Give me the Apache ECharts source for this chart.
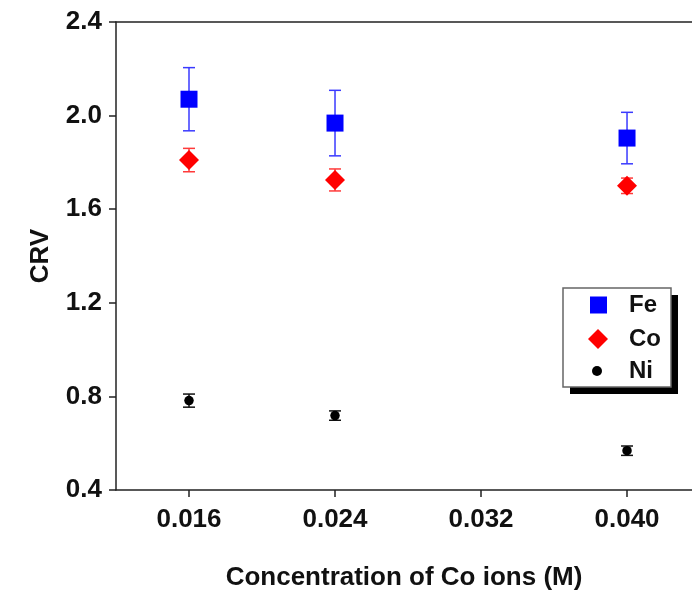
<!DOCTYPE html>
<html><head><meta charset="utf-8">
<script src="https://cdn.jsdelivr.net/npm/echarts@6/dist/echarts.min.js"></script>
<style>html,body{margin:0;padding:0;background:#fff}#c{width:692px;height:593px}</style>
</head><body><div id="c"></div>
<script>
var xValues = [0.016, 0.024, 0.040];
var xTicks = [0.016, 0.024, 0.032, 0.040];
var feMean = [2.07, 1.968, 1.904];
var feErr = [0.135, 0.14, 0.11];
var coMean = [1.81, 1.725, 1.70];
var coErr = [0.05, 0.047, 0.033];
var niMean = [0.782, 0.718, 0.568];
var niErr = [0.028, 0.02, 0.02];

function pts(m){ return xValues.map(function(x,i){return [x,m[i]];}); }
function errs(m,e){ return xValues.map(function(x,i){return [x,m[i],m[i]-e[i],m[i]+e[i]];}); }
function errSeries(m,e,color){
  return {
    type:'custom', silent:true, z:1,
    data: errs(m,e),
    renderItem:function(params, api){
      var x=api.value(0), lo=api.value(2), hi=api.value(3);
      var pt=api.coord([x,hi]), pb=api.coord([x,lo]);
      var w=6;
      var st={stroke:color,lineWidth:1.5};
      return {type:'group',children:[
        {type:'line',shape:{x1:pt[0],y1:pt[1],x2:pb[0],y2:pb[1]},style:st},
        {type:'line',shape:{x1:pt[0]-w,y1:pt[1],x2:pt[0]+w,y2:pt[1]},style:st},
        {type:'line',shape:{x1:pb[0]-w,y1:pb[1],x2:pb[0]+w,y2:pb[1]},style:st}
      ]};
    }
  };
}
var font='Liberation Sans, Arial, sans-serif';
function leg(name, left, cy, size, pad){
  return {data:[name], left:left, top:cy-12, padding:0, itemWidth:size, itemHeight:size,
    selectedMode:false,
    textStyle:{fontFamily:font,fontWeight:'bold',fontSize:24,lineHeight:24,color:'#111',padding:[0,0,0,pad]}};
}
var chart=echarts.init(document.getElementById('c'),null,{renderer:'canvas'});
chart.setOption({
  animation:false,
  backgroundColor:'#fff',
  grid:{left:116, top:22, width:576, height:468, outerBoundsMode:'none', containLabel:false},
  xAxis:[{type:'value', min:0.012, max:0.04356,
    name:'Concentration of Co ions (M)', nameLocation:'middle', nameGap:75,
    nameTextStyle:{fontFamily:font,fontWeight:'bold',fontSize:26,color:'#111'},
    axisLine:{show:true,lineStyle:{color:'#222',width:1.5}},
    axisTick:{show:true,length:7,inside:false,customValues:xTicks,lineStyle:{color:'#222',width:1.5}},
    axisLabel:{customValues:xTicks,margin:17,fontFamily:font,fontWeight:'bold',fontSize:26,color:'#111',
      formatter:function(v){return v.toFixed(3);}},
    splitLine:{show:false}},
    {type:'value', position:'top', min:0.012, max:0.04356,
    axisLine:{show:true,lineStyle:{color:'#222',width:1.5}},
    axisTick:{show:false}, axisLabel:{show:false}, splitLine:{show:false}}],
  yAxis:{type:'value', min:0.4, max:2.4, interval:0.4,
    name:'CRV', nameLocation:'middle', nameGap:62,
    nameTextStyle:{fontFamily:font,fontWeight:'bold',fontSize:26,color:'#111'},
    axisLine:{show:true,lineStyle:{color:'#222',width:1.5}},
    axisTick:{show:true,length:7,inside:false,lineStyle:{color:'#222',width:1.5}},
    axisLabel:{margin:14,fontFamily:font,fontWeight:'bold',fontSize:26,color:'#111',
      formatter:function(v){return v.toFixed(1);}},
    splitLine:{show:false}},
  graphic:[
    {type:'rect', z:1, shape:{x:570,y:295,width:108,height:99}, style:{fill:'#000'}},
    {type:'rect', z:2, shape:{x:563,y:288,width:108,height:99}, style:{fill:'#fff',stroke:'#666',lineWidth:1.5}}
  ],
  legend:[
    leg('Fe', 590, 305, 17, 17),
    leg('Co', 588, 339, 20, 16),
    leg('Ni', 592, 371, 10, 22)
  ],
  series:[
    errSeries(feMean,feErr,'#3a3aff'),
    errSeries(coMean,coErr,'#ff3a3a'),
    errSeries(niMean,niErr,'#111'),
    {name:'Fe',type:'scatter',z:3,symbol:'rect',symbolSize:17,itemStyle:{color:'#0000ff',opacity:1},data:pts(feMean)},
    {name:'Co',type:'scatter',z:3,symbol:'diamond',symbolSize:[20,20],itemStyle:{color:'#ff0000',opacity:1},data:pts(coMean)},
    {name:'Ni',type:'scatter',z:3,symbol:'circle',symbolSize:9.5,itemStyle:{color:'#000',opacity:1},data:pts(niMean)}
  ]
});
</script></body></html>
